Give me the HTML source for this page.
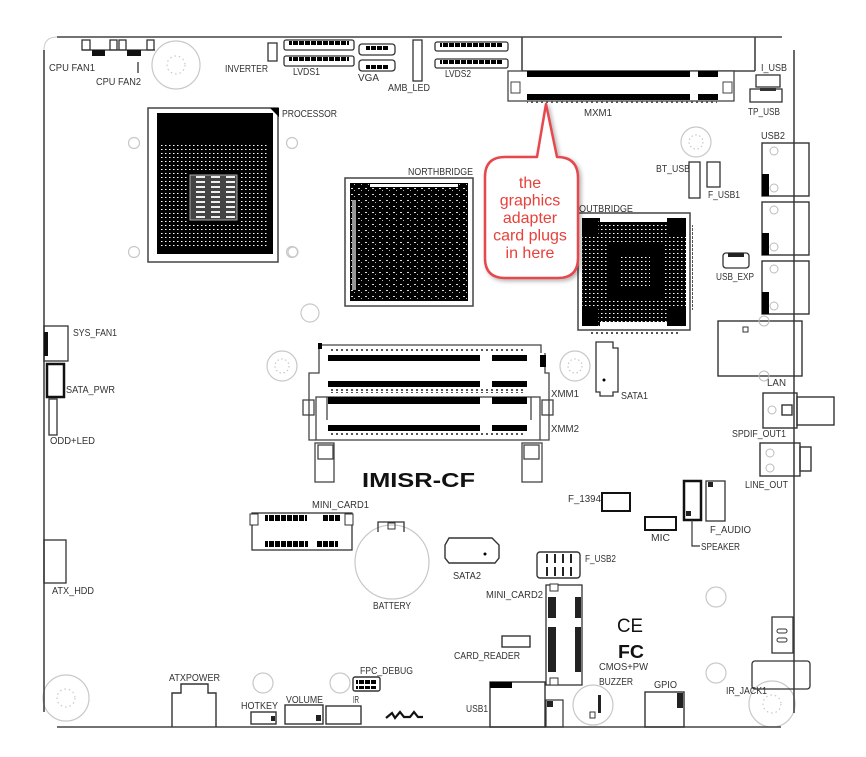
<!DOCTYPE html>
<html><head><meta charset="utf-8"><style>
html,body{margin:0;padding:0;background:#fff;}
svg{display:block;}
text{font-family:"Liberation Sans",sans-serif;}
.l{font-size:10px;fill:#333;}
</style></head><body>
<svg width="866" height="757" viewBox="0 0 866 757" xmlns="http://www.w3.org/2000/svg">
<defs>
<pattern id="bga" width="4" height="4" patternUnits="userSpaceOnUse"><rect width="4" height="4" fill="#000"/><rect x="1" y="1" width="1.5" height="1" fill="#fff"/></pattern>
<pattern id="nb" width="7" height="6" patternUnits="userSpaceOnUse"><rect width="7" height="6" fill="#000"/><rect x="1" y="2" width="2" height="1" fill="#ddd"/><rect x="4" y="4" width="1" height="1" fill="#bbb"/></pattern>
<pattern id="core" width="15" height="5" patternUnits="userSpaceOnUse"><rect width="15" height="5" fill="#444"/><rect x="1" y="1" width="9" height="2" fill="#eee"/></pattern>
<pattern id="pinrow" width="5" height="4" patternUnits="userSpaceOnUse"><rect x="1" y="0" width="2" height="3" fill="#555"/></pattern>
<pattern id="wdash" width="6" height="4" patternUnits="userSpaceOnUse"><rect width="6" height="4" fill="#000"/><rect x="4" y="0" width="1" height="4" fill="#fff"/></pattern>
<filter id="sh" x="-20%" y="-20%" width="140%" height="140%"><feDropShadow dx="2" dy="2" stdDeviation="2" flood-color="#000" flood-opacity="0.3"/></filter>
</defs>
<rect width="866" height="757" fill="#fff"/>

<!-- mounting holes -->
<g fill="none" stroke="#c8c8c8" stroke-width="1.2">
<circle cx="176" cy="65" r="24"/><circle cx="176" cy="65" r="9" stroke-dasharray="1.5 3"/>
<circle cx="66" cy="698" r="23"/><circle cx="66" cy="698" r="9" stroke-dasharray="1.5 3"/>
<circle cx="772" cy="704" r="23"/><circle cx="772" cy="704" r="9" stroke-dasharray="1.5 3"/>
<circle cx="696" cy="142" r="15"/><circle cx="696" cy="142" r="7" stroke-dasharray="1.5 2.5"/>
<circle cx="282" cy="366" r="15"/><circle cx="282" cy="366" r="7" stroke-dasharray="1.5 2.5"/>
<circle cx="575" cy="366" r="15"/><circle cx="575" cy="366" r="7" stroke-dasharray="1.5 2.5"/>
<circle cx="134" cy="143" r="5.5"/><circle cx="292" cy="143" r="5.5"/>
<circle cx="134" cy="252" r="5.5"/><circle cx="292" cy="252" r="5.5"/>
<circle cx="293" cy="252" r="5"/>
<circle cx="310" cy="313" r="9"/>
<circle cx="263" cy="683" r="10"/><circle cx="340" cy="683" r="10"/>
<circle cx="716" cy="597" r="10"/><circle cx="716" cy="673" r="10"/>
<circle cx="392" cy="562" r="37"/>
<circle cx="593" cy="705" r="20"/>
</g>

<!-- board outline -->
<g fill="none" stroke="#444" stroke-width="1.6">
<path d="M57 37 H782"/>
<path d="M794 50 V713"/>
<path d="M57 727 H781"/>
<path d="M44 50 V712"/>
<path d="M522 37 V71 M755 37 V71 M522 71 H755"/>
</g>
<path d="M44 50 Q44 37 57 37" stroke="#ccc" fill="none"/>

<!-- CPU fans -->
<g fill="none" stroke="#333" stroke-width="1.3">
<rect x="82" y="40" width="8" height="10"/><rect x="110" y="40" width="7" height="10"/>
<rect x="119" y="40" width="7" height="10"/><rect x="147" y="40" width="7" height="10"/>
<path d="M82 50 H155 M138 62 V73"/>
</g>
<rect x="92" y="50" width="13" height="6" fill="#111"/><rect x="127" y="50" width="14" height="6" fill="#111"/>

<!-- INVERTER, LVDS1, VGA, AMB_LED, LVDS2 -->
<g fill="none" stroke="#333" stroke-width="1.3">
<rect x="268" y="43" width="9" height="18"/>
<rect x="284" y="40" width="70" height="10" rx="2"/><rect x="284" y="56" width="70" height="10" rx="2"/>
<rect x="359" y="44" width="36" height="11" rx="3"/><rect x="359" y="60" width="36" height="11" rx="3"/>
<rect x="413" y="40" width="9" height="41"/>
<rect x="435" y="42" width="73" height="9" rx="2"/><rect x="435" y="59" width="73" height="9" rx="2"/>
</g>
<rect x="289" y="41" width="60" height="4" fill="url(#wdash)"/><rect x="289" y="57" width="60" height="4" fill="url(#wdash)"/>
<rect x="366" y="46" width="22" height="4" fill="url(#wdash)"/><rect x="366" y="65" width="22" height="4" fill="url(#wdash)"/>
<rect x="440" y="43" width="63" height="4" fill="url(#wdash)"/><rect x="440" y="60" width="63" height="4" fill="url(#wdash)"/>

<!-- MXM1 -->
<rect x="508" y="71" width="226" height="30" fill="#fff" stroke="#444" stroke-width="1.3"/>
<rect x="527" y="71" width="163" height="6" fill="#000"/><rect x="698" y="71" width="20" height="6" fill="#000"/>
<rect x="527" y="94" width="163" height="6" fill="#000"/><rect x="698" y="94" width="20" height="6" fill="#000"/>
<rect x="511" y="82" width="9" height="11" fill="none" stroke="#444"/><rect x="723" y="82" width="9" height="11" fill="none" stroke="#444"/>
<rect x="527" y="101" width="190" height="3" fill="url(#pinrow)"/>

<!-- I_USB / TP_USB -->
<g fill="none" stroke="#333" stroke-width="1.3">
<rect x="756" y="75" width="24" height="12"/>
<rect x="750" y="89" width="32" height="13"/>
</g>
<rect x="760" y="88" width="16" height="3" fill="#333"/>

<!-- USB2 stack -->
<g fill="none" stroke="#333" stroke-width="1.4">
<rect x="762" y="143" width="47" height="53"/><rect x="762" y="202" width="47" height="53"/><rect x="762" y="261" width="47" height="53"/>
</g>
<rect x="762" y="174" width="7" height="22" fill="#000"/><rect x="762" y="233" width="7" height="22" fill="#000"/><rect x="762" y="292" width="7" height="22" fill="#000"/>
<g fill="none" stroke="#bbb"><circle cx="774" cy="151" r="4"/><circle cx="774" cy="188" r="4"/><circle cx="774" cy="210" r="4"/><circle cx="774" cy="247" r="4"/><circle cx="774" cy="269" r="4"/><circle cx="774" cy="306" r="4"/></g>

<!-- BT_USB, F_USB1, USB_EXP -->
<g fill="none" stroke="#333" stroke-width="1.3">
<rect x="689" y="162" width="11" height="36"/>
<rect x="707" y="162" width="13" height="25"/>
<rect x="723" y="253" width="26" height="15" rx="3"/>
</g>
<rect x="728" y="253" width="16" height="4" fill="#222"/>

<!-- Processor -->
<rect x="148" y="108" width="130" height="154" fill="#fff" stroke="#444" stroke-width="1.5"/>
<rect x="157" y="113" width="116" height="141" fill="#000"/>
<rect x="161" y="145" width="108" height="104" fill="url(#bga)"/>
<rect x="187" y="172" width="53" height="51" fill="#000"/>
<rect x="190" y="175" width="47" height="45" fill="url(#core)" stroke="#aaa"/>
<path d="M270 108 H279 V117 Z" fill="#000"/>

<!-- Northbridge -->
<rect x="345" y="178" width="128" height="128" fill="#fff" stroke="#444" stroke-width="1.5"/>
<rect x="350" y="183" width="118" height="118" fill="url(#nb)"/>
<rect x="370" y="184" width="88" height="3" fill="#fff"/>
<rect x="352" y="200" width="4" height="90" fill="#999"/>

<!-- Southbridge -->
<rect x="578" y="213" width="112" height="117" fill="#fff" stroke="#444" stroke-width="1.5"/>
<rect x="582" y="218" width="104" height="108" fill="url(#bga)"/>
<rect x="600" y="218" width="67" height="4" fill="#fff"/>
<rect x="600" y="322" width="67" height="4" fill="#fff"/>
<rect x="582" y="218" width="16" height="16" fill="#000"/><rect x="668" y="218" width="18" height="16" fill="#000"/>
<rect x="582" y="308" width="16" height="18" fill="#000"/><rect x="668" y="308" width="18" height="18" fill="#000"/>
<rect x="608" y="243" width="56" height="56" fill="#000"/>
<rect x="620" y="256" width="30" height="30" fill="url(#bga)"/>
<rect x="692" y="225" width="3" height="85" fill="url(#pinrow)"/>
<rect x="590" y="331" width="90" height="3" fill="url(#pinrow)"/>

<!-- Memory slots -->
<g fill="none" stroke="#444" stroke-width="1.3">
<path d="M319 345 H541 V353 M319 345 V373 H309 V440 H316"/>
<path d="M545 353 V373 H549 V440 H540"/>
<rect x="316" y="397" width="224" height="43"/>
<path d="M327 397 V420 M531 397 V420"/>
<rect x="303" y="400" width="11" height="15"/><rect x="542" y="400" width="11" height="15"/>
<rect x="315" y="443" width="19" height="39"/><rect x="318" y="445" width="15" height="14"/>
<rect x="522" y="443" width="20" height="39"/><rect x="524" y="445" width="15" height="14"/>
</g>
<g fill="#000">
<rect x="328" y="355" width="152" height="6"/><rect x="492" y="355" width="35" height="6"/>
<rect x="328" y="381" width="152" height="6"/><rect x="492" y="381" width="35" height="6"/>
<rect x="328" y="397" width="152" height="7"/><rect x="492" y="397" width="35" height="7"/>
<rect x="328" y="425" width="152" height="6"/><rect x="492" y="425" width="35" height="6"/>
<rect x="318" y="343" width="4" height="6"/><rect x="540" y="355" width="6" height="12"/>
</g>
<rect x="330" y="349" width="195" height="3" fill="url(#pinrow)"/>
<rect x="330" y="389" width="195" height="4" fill="url(#pinrow)"/>
<rect x="330" y="433" width="195" height="3" fill="url(#pinrow)"/>

<text x="362" y="487" font-size="20" font-weight="bold" fill="#111" textLength="113" lengthAdjust="spacingAndGlyphs">IMISR-CF</text>

<!-- SATA1 -->
<path d="M596 342 H613 V348 H618 V392 H613 V396 H600 V392 H596 Z" fill="none" stroke="#333" stroke-width="1.3"/>
<circle cx="604" cy="380" r="1.5" fill="#000"/>

<!-- LAN / SPDIF / LINE_OUT -->
<g fill="none" stroke="#333" stroke-width="1.4">
<rect x="718" y="321" width="84" height="55"/>
<rect x="763" y="393" width="34" height="35"/><rect x="797" y="397" width="37" height="28"/>
<rect x="782" y="405" width="10" height="10"/>
<rect x="760" y="443" width="40" height="33"/><rect x="800" y="447" width="11" height="24"/>
</g>
<g fill="none" stroke="#bbb"><circle cx="764" cy="321" r="5"/><circle cx="764" cy="376" r="5"/><circle cx="772" cy="410" r="4"/><circle cx="770" cy="453" r="4"/><circle cx="770" cy="468" r="4"/></g>
<rect x="743" y="327" width="5" height="5" fill="none" stroke="#333"/>

<!-- Audio headers -->
<rect x="684" y="481" width="17" height="39" fill="none" stroke="#111" stroke-width="2.5"/>
<rect x="706" y="481" width="19" height="40" fill="none" stroke="#333" stroke-width="1.3"/>
<rect x="708" y="482" width="5" height="5" fill="#222"/>
<rect x="686" y="511" width="5" height="5" fill="#222"/>
<rect x="602" y="493" width="28" height="18" fill="none" stroke="#111" stroke-width="2"/>
<rect x="645" y="517" width="31" height="13" fill="none" stroke="#111" stroke-width="2"/>
<path d="M692 520 V546 H700" fill="none" stroke="#333" stroke-width="1.2"/>

<!-- Left column -->
<g fill="none" stroke="#333" stroke-width="1.3">
<rect x="44" y="326" width="24" height="35"/>
<rect x="49" y="399" width="8" height="36"/>
<rect x="44" y="540" width="22" height="43"/>
</g>
<rect x="44" y="332" width="4" height="24" fill="#111"/>
<rect x="47" y="364" width="17" height="33" fill="none" stroke="#111" stroke-width="2.5"/>

<!-- MINI_CARD1 -->
<rect x="252" y="513" width="100" height="37" fill="none" stroke="#333" stroke-width="1.3"/>
<rect x="250" y="514" width="8" height="11" fill="#fff" stroke="#333"/><rect x="345" y="514" width="8" height="11" fill="#fff" stroke="#333"/>
<rect x="265" y="515" width="42" height="6" fill="url(#wdash)"/><rect x="322" y="515" width="18" height="6" fill="url(#wdash)"/>
<rect x="265" y="541" width="43" height="6" fill="url(#wdash)"/><rect x="317" y="541" width="21" height="6" fill="url(#wdash)"/>

<!-- Battery holder -->
<path d="M378 532 V522 H404 V532" fill="none" stroke="#333" stroke-width="1.3"/>
<rect x="388" y="523" width="7" height="6" fill="none" stroke="#333"/>

<!-- SATA2 -->
<path d="M449 538 H492 L499 545 V558 L495 563 H449 L445 558 V545 Z" fill="none" stroke="#333" stroke-width="1.4"/>
<circle cx="485" cy="554" r="1.5" fill="#000"/>

<!-- F_USB2 -->
<rect x="537" y="552" width="43" height="26" rx="3" fill="none" stroke="#333" stroke-width="1.4"/>
<g fill="#222"><rect x="546" y="554" width="2" height="9"/><rect x="554" y="554" width="2" height="9"/><rect x="562" y="554" width="2" height="9"/><rect x="570" y="554" width="2" height="9"/>
<rect x="546" y="567" width="2" height="9"/><rect x="554" y="567" width="2" height="9"/><rect x="562" y="567" width="2" height="9"/><rect x="570" y="567" width="2" height="9"/></g>

<!-- MINI_CARD2 -->
<rect x="546" y="585" width="36" height="100" fill="none" stroke="#333" stroke-width="1.3"/>
<rect x="550" y="584" width="8" height="7" fill="#fff" stroke="#333"/><rect x="550" y="678" width="8" height="7" fill="#fff" stroke="#333"/>
<g fill="#222"><rect x="548" y="597" width="8" height="21"/><rect x="548" y="627" width="8" height="45"/><rect x="575" y="597" width="6" height="21"/><rect x="575" y="627" width="6" height="45"/></g>

<!-- CARD_READER -->
<rect x="502" y="636" width="28" height="11" fill="none" stroke="#333" stroke-width="1.4"/>

<!-- CE FC -->
<text x="617" y="632" font-size="19" fill="#111" textLength="26" lengthAdjust="spacingAndGlyphs">CE</text>
<text x="618" y="658" font-size="18" font-weight="bold" fill="#111" textLength="26" lengthAdjust="spacingAndGlyphs">FC</text>

<!-- Buzzer inner -->
<rect x="598" y="695" width="3" height="18" fill="#222"/><rect x="590" y="712" width="5" height="6" fill="none" stroke="#333"/>

<!-- USB1 -->
<rect x="490" y="682" width="55" height="45" fill="none" stroke="#333" stroke-width="1.4"/>
<rect x="490" y="682" width="22" height="6" fill="#000"/>
<rect x="546" y="700" width="17" height="27" fill="none" stroke="#333" stroke-width="1.2"/>
<rect x="547" y="701" width="6" height="6" fill="#222"/>

<!-- GPIO -->
<rect x="645" y="692" width="39" height="35" fill="none" stroke="#333" stroke-width="1.4"/>
<rect x="677" y="693" width="6" height="15" fill="#222"/>

<!-- right edge small box / IR_JACK1 -->
<rect x="772" y="617" width="21" height="36" fill="none" stroke="#333" stroke-width="1.3"/>
<rect x="777" y="629" width="10" height="4" rx="2" fill="none" stroke="#333"/><rect x="777" y="638" width="10" height="4" rx="2" fill="none" stroke="#333"/>
<rect x="752" y="661" width="58" height="28" rx="3" fill="none" stroke="#333" stroke-width="1.3"/>

<!-- bottom connectors -->
<g fill="none" stroke="#333" stroke-width="1.4">
<path d="M172 727 V693 H181 V684 H208 V693 H216 V727"/>
<rect x="251" y="712" width="25" height="12"/>
<rect x="285" y="705" width="38" height="19"/>
<rect x="326" y="706" width="35" height="18"/>
<rect x="353" y="677" width="27" height="14" rx="2"/>
</g>
<rect x="271" y="716" width="4" height="5" fill="#222"/>
<rect x="316" y="715" width="5" height="6" fill="#222"/>
<rect x="356" y="680" width="20" height="4" fill="url(#wdash)"/><rect x="356" y="686" width="20" height="3" fill="url(#wdash)"/>
<path d="M386 718 L392 713 L395 718 L400 712 L404 717 H410 L414 712 L418 717 H423" fill="none" stroke="#111" stroke-width="2.2"/>

<!-- Labels -->
<g class="l">
<text x="49" y="71" textLength="46" lengthAdjust="spacingAndGlyphs">CPU FAN1</text>
<text x="96" y="85" textLength="45" lengthAdjust="spacingAndGlyphs">CPU FAN2</text>
<text x="225" y="72" textLength="43" lengthAdjust="spacingAndGlyphs">INVERTER</text>
<text x="293" y="75" textLength="27" lengthAdjust="spacingAndGlyphs">LVDS1</text>
<text x="358" y="81" textLength="21" lengthAdjust="spacingAndGlyphs">VGA</text>
<text x="388" y="91" textLength="42" lengthAdjust="spacingAndGlyphs">AMB_LED</text>
<text x="282" y="117" textLength="55" lengthAdjust="spacingAndGlyphs">PROCESSOR</text>
<text x="445" y="77" textLength="26" lengthAdjust="spacingAndGlyphs">LVDS2</text>
<text x="584" y="116" textLength="28" lengthAdjust="spacingAndGlyphs">MXM1</text>
<text x="761" y="71" textLength="26" lengthAdjust="spacingAndGlyphs">I_USB</text>
<text x="748" y="115" textLength="32" lengthAdjust="spacingAndGlyphs">TP_USB</text>
<text x="761" y="139" textLength="24" lengthAdjust="spacingAndGlyphs">USB2</text>
<text x="656" y="172" textLength="34" lengthAdjust="spacingAndGlyphs">BT_USB</text>
<text x="708" y="198" textLength="32" lengthAdjust="spacingAndGlyphs">F_USB1</text>
<text x="408" y="175" textLength="65" lengthAdjust="spacingAndGlyphs">NORTHBRIDGE</text>
<text x="579" y="212" textLength="54" lengthAdjust="spacingAndGlyphs">OUTBRIDGE</text>
<text x="716" y="280" textLength="38" lengthAdjust="spacingAndGlyphs">USB_EXP</text>
<text x="73" y="336" textLength="44" lengthAdjust="spacingAndGlyphs">SYS_FAN1</text>
<text x="66" y="393" textLength="49" lengthAdjust="spacingAndGlyphs">SATA_PWR</text>
<text x="50" y="444" textLength="45" lengthAdjust="spacingAndGlyphs">ODD+LED</text>
<text x="312" y="508" textLength="57" lengthAdjust="spacingAndGlyphs">MINI_CARD1</text>
<text x="551" y="397" textLength="28" lengthAdjust="spacingAndGlyphs">XMM1</text>
<text x="551" y="432" textLength="28" lengthAdjust="spacingAndGlyphs">XMM2</text>
<text x="621" y="399" textLength="27" lengthAdjust="spacingAndGlyphs">SATA1</text>
<text x="767" y="386" textLength="19" lengthAdjust="spacingAndGlyphs">LAN</text>
<text x="732" y="437" textLength="54" lengthAdjust="spacingAndGlyphs">SPDIF_OUT1</text>
<text x="745" y="488" textLength="43" lengthAdjust="spacingAndGlyphs">LINE_OUT</text>
<text x="568" y="502" textLength="33" lengthAdjust="spacingAndGlyphs">F_1394</text>
<text x="710" y="533" textLength="41" lengthAdjust="spacingAndGlyphs">F_AUDIO</text>
<text x="651" y="541" textLength="19" lengthAdjust="spacingAndGlyphs">MIC</text>
<text x="701" y="550" textLength="39" lengthAdjust="spacingAndGlyphs">SPEAKER</text>
<text x="453" y="579" textLength="28" lengthAdjust="spacingAndGlyphs">SATA2</text>
<text x="585" y="562" textLength="31" lengthAdjust="spacingAndGlyphs">F_USB2</text>
<text x="486" y="598" textLength="57" lengthAdjust="spacingAndGlyphs">MINI_CARD2</text>
<text x="454" y="659" textLength="66" lengthAdjust="spacingAndGlyphs">CARD_READER</text>
<text x="599" y="670" textLength="49" lengthAdjust="spacingAndGlyphs">CMOS+PW</text>
<text x="599" y="685" textLength="34" lengthAdjust="spacingAndGlyphs">BUZZER</text>
<text x="654" y="688" textLength="23" lengthAdjust="spacingAndGlyphs">GPIO</text>
<text x="726" y="694" textLength="41" lengthAdjust="spacingAndGlyphs">IR_JACK1</text>
<text x="466" y="712" textLength="22" lengthAdjust="spacingAndGlyphs">USB1</text>
<text x="52" y="594" textLength="42" lengthAdjust="spacingAndGlyphs">ATX_HDD</text>
<text x="373" y="609" textLength="38" lengthAdjust="spacingAndGlyphs">BATTERY</text>
<text x="169" y="681" textLength="51" lengthAdjust="spacingAndGlyphs">ATXPOWER</text>
<text x="360" y="674" textLength="53" lengthAdjust="spacingAndGlyphs">FPC_DEBUG</text>
<text x="241" y="709" textLength="37" lengthAdjust="spacingAndGlyphs">HOTKEY</text>
<text x="286" y="703" textLength="37" lengthAdjust="spacingAndGlyphs">VOLUME</text>
<text x="353" y="703" textLength="6" lengthAdjust="spacingAndGlyphs">IR</text>
</g>

<!-- Callout -->
<path d="M505 157 L537 157 L546 104 L557 157 Q578 157 578 178 L578 258 Q578 278 558 278 L505 278 Q485 278 485 258 L485 177 Q485 157 505 157 Z" fill="#fff" stroke="#e5484d" stroke-width="2.5" stroke-linejoin="round" filter="url(#sh)"/>
<g font-size="16" fill="#e8403a" text-anchor="middle">
<text x="530" y="188">the</text>
<text x="530" y="205.5">graphics</text>
<text x="530" y="223">adapter</text>
<text x="530" y="240.5">card plugs</text>
<text x="530" y="258">in here</text>
</g>
</svg>
</body></html>
